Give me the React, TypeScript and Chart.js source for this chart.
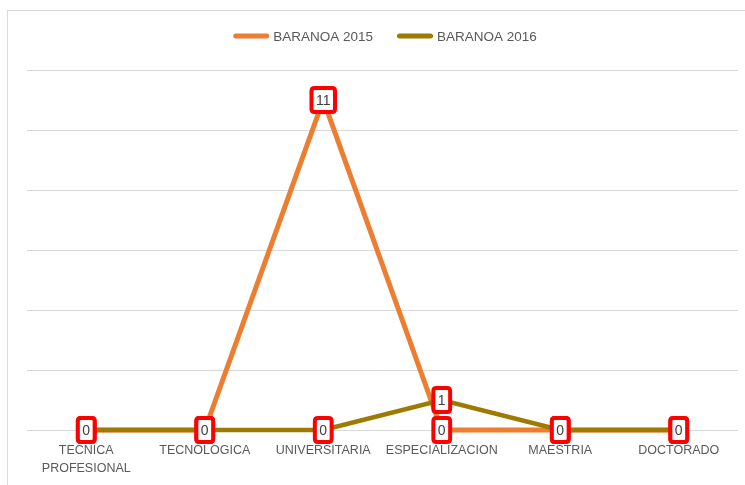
import React, { useEffect, useRef } from "react";
import { Chart, registerables } from "chart.js";

Chart.register(...registerables);

const categories: (string | string[])[] = [
  ["TECNICA", "PROFESIONAL"],
  "TECNOLOGICA",
  "UNIVERSITARIA",
  "ESPECIALIZACION",
  "MAESTRIA",
  "DOCTORADO",
];
const series2015: number[] = [0, 0, 11, 0, 0, 0];
const series2016: number[] = [0, 0, 0, 1, 0, 0];
const seriesNames: string[] = ["BARANOA 2015", "BARANOA 2016"];
const yTicks = { min: 0, max: 12, step: 2 };

const ORANGE = "#ED7D31";
const OLIVE = "#9E7A00";
const FONT = "'Liberation Sans', Arial, sans-serif";

const framePlugin = {
  id: "frame",
  beforeDraw(chart: any) {
    const ctx = chart.ctx;
    ctx.save();
    ctx.strokeStyle = "#d9d9d9";
    ctx.lineWidth = 1;
    ctx.strokeRect(7.5, 10.5, 900, 700);
    ctx.restore();
  },
};

const legendPlugin = {
  id: "customLegend",
  afterDraw(chart: any) {
    const ctx = chart.ctx;
    ctx.save();
    ctx.font = `13.5px ${FONT}`;
    const sample = 36;
    const gap = 4;
    const itemGap = 24;
    const colors = [ORANGE, OLIVE];
    const widths = seriesNames.map((n) => sample + gap + ctx.measureText(n).width);
    const total = widths.reduce((a, b) => a + b, 0) + itemGap * (widths.length - 1);
    let x = 385 - total / 2;
    const y = 36;
    seriesNames.forEach((name, i) => {
      ctx.strokeStyle = colors[i];
      ctx.lineWidth = 5;
      ctx.lineCap = "round";
      ctx.beginPath();
      ctx.moveTo(x + 2.5, y);
      ctx.lineTo(x + sample - 2.5, y);
      ctx.stroke();
      ctx.fillStyle = "#595959";
      ctx.textBaseline = "middle";
      ctx.textAlign = "left";
      ctx.fillText(name, x + sample + gap, y + 1);
      x += widths[i] + itemGap;
    });
    ctx.restore();
  },
};

function roundRect(ctx: CanvasRenderingContext2D, x: number, y: number, w: number, h: number, r: number) {
  ctx.beginPath();
  ctx.moveTo(x + r, y);
  ctx.lineTo(x + w - r, y);
  ctx.quadraticCurveTo(x + w, y, x + w, y + r);
  ctx.lineTo(x + w, y + h - r);
  ctx.quadraticCurveTo(x + w, y + h, x + w - r, y + h);
  ctx.lineTo(x + r, y + h);
  ctx.quadraticCurveTo(x, y + h, x, y + h - r);
  ctx.lineTo(x, y + r);
  ctx.quadraticCurveTo(x, y, x + r, y);
  ctx.closePath();
}

const labelPlugin = {
  id: "boxLabels",
  afterDatasetsDraw(chart: any) {
    const ctx = chart.ctx;
    ctx.save();
    ctx.font = `14px ${FONT}`;
    ctx.textAlign = "center";
    ctx.textBaseline = "middle";
    chart.data.datasets.forEach((ds: any, di: number) => {
      const meta = chart.getDatasetMeta(di);
      meta.data.forEach((pt: any, i: number) => {
        const txt = String(ds.data[i]);
        const tw = ctx.measureText(txt).width;
        const w = tw + 9;
        const h = 24;
        const bx = pt.x - w / 2;
        const by = pt.y - h / 2;
        roundRect(ctx, bx, by, w, h, 3);
        ctx.fillStyle = "#ffffff";
        ctx.fill();
        ctx.strokeStyle = "#ff0000";
        ctx.lineWidth = 4;
        ctx.stroke();
        ctx.fillStyle = "#404040";
        ctx.fillText(txt, pt.x, pt.y + 1);
      });
    });
    ctx.restore();
  },
};

export default function App() {
  const ref = useRef<HTMLCanvasElement>(null);
  useEffect(() => {
    if (!ref.current) return;
    const chart = new Chart(ref.current, {
      type: "line",
      data: {
        labels: categories,
        datasets: [
          {
            label: seriesNames[0],
            data: series2015,
            borderColor: ORANGE,
            backgroundColor: ORANGE,
            borderWidth: 5,
            pointRadius: 0,
            tension: 0,
            order: 1,
            clip: false,
          },
          {
            label: seriesNames[1],
            data: series2016,
            borderColor: OLIVE,
            backgroundColor: OLIVE,
            borderWidth: 4.5,
            pointRadius: 0,
            tension: 0,
            order: 0,
            clip: false,
          },
        ],
      },
      options: {
        animation: false,
        responsive: false,
        maintainAspectRatio: false,
        layout: { padding: { left: 27, right: 7, top: 70, bottom: 9 } },
        plugins: {
          legend: { display: false },
          tooltip: { enabled: false },
        },
        scales: {
          x: {
            offset: true,
            grid: { display: false },
            border: { display: false },
            ticks: {
              color: "#595959",
              font: { family: FONT, size: 12.5, lineHeight: 1.44 },
              padding: 4,
              maxRotation: 0,
              autoSkip: false,
            },
            afterFit(scale: any) {
              scale.height = 46;
            },
          },
          y: {
            min: yTicks.min,
            max: yTicks.max,
            ticks: { display: false, stepSize: yTicks.step },
            grid: { color: "#d9d9d9", lineWidth: 1, drawTicks: false },
            border: { display: false },
          },
        },
      },
      plugins: [framePlugin, legendPlugin, labelPlugin],
    });
    return () => chart.destroy();
  }, []);
  return (
    <div style={{ position: "absolute", left: 0, top: 0, width: 745, height: 485, background: "#fff" }}>
      <canvas ref={ref} width={745} height={485} style={{ display: "block" }} />
    </div>
  );
}
